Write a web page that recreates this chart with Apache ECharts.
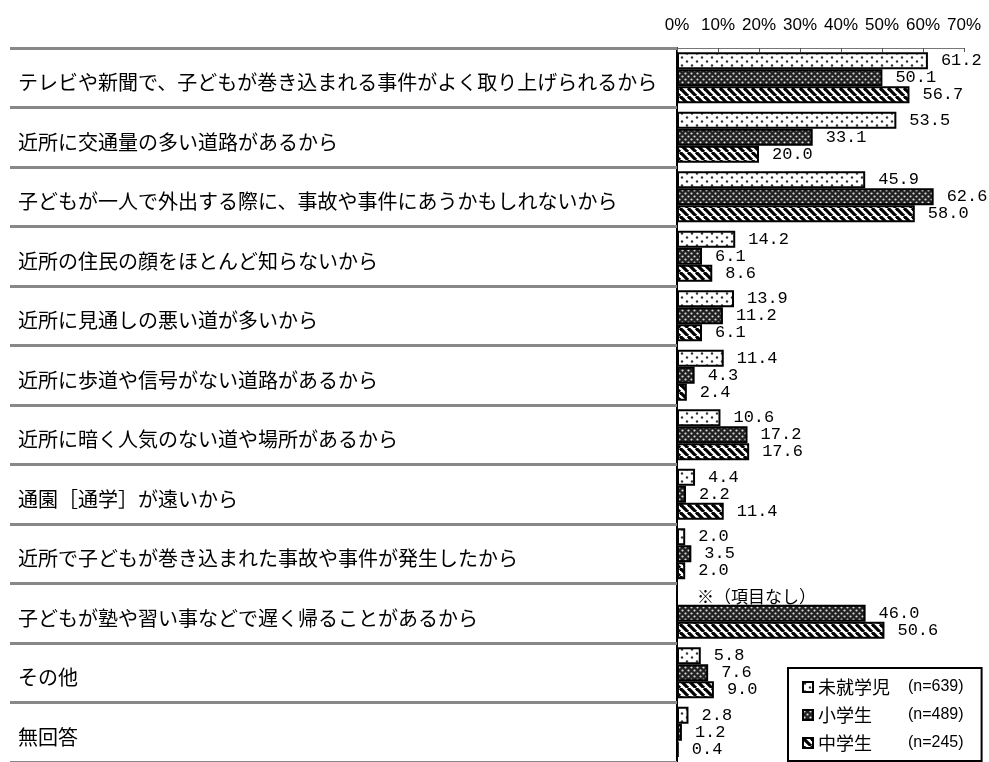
<!DOCTYPE html>
<html>
<head>
<meta charset="utf-8">
<title>不安を感じる理由</title>
<script src="https://cdn.jsdelivr.net/npm/echarts@6/dist/echarts.min.js"></script>
<style>
  html, body { margin: 0; padding: 0; background: #fff; }
  #chart { width: 989px; height: 762px; }
</style>
</head>
<body>
<div id="chart"></div>
<script>
const categories = [
    "テレビや新聞で、子どもが巻き込まれる事件がよく取り上げられるから",
    "近所に交通量の多い道路があるから",
    "子どもが一人で外出する際に、事故や事件にあうかもしれないから",
    "近所の住民の顔をほとんど知らないから",
    "近所に見通しの悪い道が多いから",
    "近所に歩道や信号がない道路があるから",
    "近所に暗く人気のない道や場所があるから",
    "通園［通学］が遠いから",
    "近所で子どもが巻き込まれた事故や事件が発生したから",
    "子どもが塾や習い事などで遅く帰ることがあるから",
    "その他",
    "無回答"
];
const seriesNames = ["未就学児", "小学生", "中学生"];
const sampleSizes = ["(n=639)", "(n=489)", "(n=245)"];
// null = 項目なし
const preschool = [61.2, 53.5, 45.9, 14.2, 13.9, 11.4, 10.6, 4.4, 2.0, null, 5.8, 2.8];
const elementary = [50.1, 33.1, 62.6, 6.1, 11.2, 4.3, 17.2, 2.2, 3.5, 46.0, 7.6, 1.2];
const juniorHigh = [56.7, 20.0, 58.0, 8.6, 6.1, 2.4, 17.6, 11.4, 2.0, 50.6, 9.0, 0.4];
const xTicks = [0, 10, 20, 30, 40, 50, 60, 70];
const noItemText = "※（項目なし）";

/**
 * 塗りつぶし用パターン（canvas）を作る
 */
function makePattern(w, h, draw){
    let cv = document.createElement("canvas");
    cv.width = w;
    cv.height = h;
    draw(cv.getContext("2d"));
    return { image: cv, repeat: "repeat" };
}

const dotPattern = makePattern(10, 8, ctx => {
    ctx.fillStyle = "#fff";
    ctx.fillRect(0, 0, 10, 8);
    ctx.fillStyle = "#333";
    [[2, 1.5], [7, 5.5]].forEach(p => {
        ctx.beginPath();
        ctx.arc(p[0], p[1], 1.2, 0, Math.PI * 2);
        ctx.fill();
    });
});

const crossPattern = makePattern(6, 6, ctx => {
    ctx.fillStyle = "#222";
    ctx.fillRect(0, 0, 6, 6);
    ctx.fillStyle = "#ddd";
    ctx.beginPath();
    ctx.arc(1.5, 1.5, 1.1, 0, Math.PI * 2);
    ctx.fill();
    ctx.beginPath();
    ctx.arc(4.5, 4.5, 1.1, 0, Math.PI * 2);
    ctx.fill();
});

const stripePattern = makePattern(8, 8, ctx => {
    ctx.fillStyle = "#fff";
    ctx.fillRect(0, 0, 8, 8);
    ctx.strokeStyle = "#000";
    ctx.lineWidth = 3.2;
    [-8, 0, 8].forEach(o => {
        ctx.beginPath();
        ctx.moveTo(o, 0);
        ctx.lineTo(o + 8, 8);
        ctx.stroke();
    });
});

const fills = [dotPattern, crossPattern, stripePattern];

function buildData(values){
    return values.map(v => {
        if(v === null){
            return {
                value: 0,
                itemStyle: { color: "transparent", borderWidth: 0 },
                label: {
                    formatter: noItemText,
                    fontFamily: "Noto Sans CJK JP",
                    fontSize: 17,
                    distance: 20
                }
            };
        }
        return v;
    });
}

const seriesList = [preschool, elementary, juniorHigh].map((values, i) => ({
    name: seriesNames[i],
    type: "bar",
    data: buildData(values),
    barWidth: 17,
    barGap: "0%",
    itemStyle: { color: fills[i], borderColor: "#000", borderWidth: 2 },
    label: {
        show: true,
        position: "right",
        distance: 13,
        color: "#000",
        fontFamily: "Liberation Mono",
        fontSize: 17,
        formatter: p => Number(p.value).toFixed(1)
    },
    animation: false
}));

const chart = echarts.init(document.getElementById("chart"));
chart.setOption({
    backgroundColor: "#fff",
    grid: { left: 677, top: 48, width: 287, height: 720 },
    xAxis: {
        type: "value",
        position: "top",
        min: xTicks[0],
        max: xTicks[xTicks.length - 1],
        interval: xTicks[1] - xTicks[0],
        axisLine: { show: true, lineStyle: { color: "#777", width: 1 } },
        axisTick: { show: true, inside: true, length: 4, lineStyle: { color: "#555" } },
        splitLine: { show: false },
        axisLabel: {
            color: "#000",
            fontFamily: "\"Liberation Sans Narrow\", \"Liberation Sans\", sans-serif",
            fontSize: 17,
            margin: 14,
            formatter: "{value}%"
        }
    },
    yAxis: {
        type: "category",
        inverse: true,
        data: categories,
        axisLine: { show: true, lineStyle: { color: "#000", width: 2 } },
        // 行の区切り線（ラベル側に伸びる目盛）
        axisTick: { show: true, length: 667, lineStyle: { color: "#888", width: 3 } },
        axisLabel: {
            color: "#000",
            fontFamily: "Noto Sans CJK JP",
            fontSize: 20,
            align: "left",
            margin: 659,
            verticalAlign: "top",
            lineHeight: 10
        }
    },
    legend: {
        orient: "vertical",
        left: 788,
        top: 668,
        backgroundColor: "#fff",
        borderColor: "#000",
        borderWidth: 2,
        borderRadius: 0,
        padding: [10, 18, 9, 14],
        itemGap: 10,
        itemWidth: 10,
        itemHeight: 10,
        icon: "rect",
        itemStyle: { borderColor: "#000", borderWidth: 2 },
        data: seriesNames,
        formatter: name => "{a|" + name + "}{b|" + sampleSizes[seriesNames.indexOf(name)] + "}",
        textStyle: {
            color: "#000",
            rich: {
                a: { width: 90, fontSize: 18, fontFamily: "Noto Sans CJK JP", color: "#000" },
                b: { fontSize: 16, fontFamily: "Liberation Sans", color: "#000" }
            }
        }
    },
    series: seriesList
});
</script>
</body>
</html>
